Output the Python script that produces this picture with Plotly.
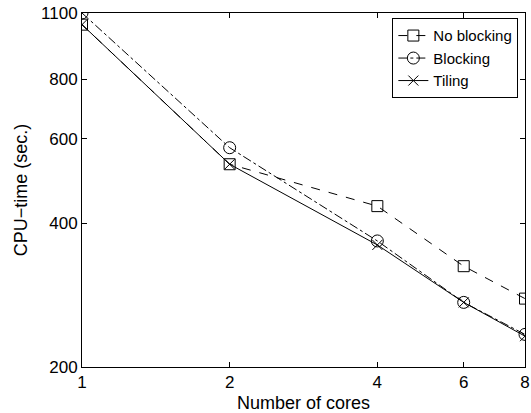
import plotly.graph_objects as go

cores = [1, 2, 4, 6, 8]
no_blocking = [1040, 531, 434, 325, 278]
blocking = [1100, 575, 367, 273, 234]
tiling = [1040, 531, 360, 273, 232]

x_ticks = [1, 2, 4, 6, 8]
y_ticks = [200, 400, 600, 800, 1100]

fig = go.Figure()
fig.add_trace(go.Scatter(
    x=cores, y=no_blocking, name="No blocking", mode="lines+markers",
    line=dict(color="black", width=1, dash="dash"),
    marker=dict(symbol="square-open", size=11, color="black", line=dict(width=1)),
))
fig.add_trace(go.Scatter(
    x=cores, y=blocking, name="Blocking", mode="lines+markers",
    line=dict(color="black", width=1, dash="dashdot"),
    marker=dict(symbol="circle-open", size=12, color="black", line=dict(width=1)),
))
fig.add_trace(go.Scatter(
    x=cores, y=tiling, name="Tiling", mode="lines+markers",
    line=dict(color="black", width=1),
    marker=dict(symbol="x-thin-open", size=10, color="black", line=dict(width=1, color="black")),
))

fam = "Liberation Sans, Arial, sans-serif"
tick_font = dict(family=fam, size=17, color="black")
title_font = dict(family=fam, size=18, color="black")

fig.update_layout(
    width=531, height=413,
    margin=dict(l=82, r=6, t=13, b=46, autoexpand=False),
    paper_bgcolor="white", plot_bgcolor="white",
    font=tick_font,
    showlegend=True,
    legend=dict(
        x=0.985, y=0.985, xanchor="right", yanchor="top",
        bordercolor="black", borderwidth=1, bgcolor="white",
        font=dict(family=fam, size=15, color="black"),
        tracegroupgap=0, itemwidth=30,
    ),
)
fig.update_xaxes(
    type="log", range=[0, 0.90309], automargin=False,
    tickvals=x_ticks, ticktext=[str(v) for v in x_ticks],
    ticks="inside", ticklen=5, tickcolor="black", tickwidth=1,
    showline=True, linecolor="black", linewidth=1, mirror="ticks",
    showgrid=False, zeroline=False,
    title=dict(text="Number of cores", standoff=4, font=title_font),
    tickfont=tick_font,
)
fig.update_yaxes(
    type="log", range=[2.30103, 3.041393], automargin=False,
    tickvals=y_ticks, ticktext=[str(v) for v in y_ticks],
    ticks="inside", ticklen=5, tickcolor="black", tickwidth=1,
    showline=True, linecolor="black", linewidth=1, mirror="ticks",
    showgrid=False, zeroline=False,
    title=dict(text="CPU\u2212time (sec.)", standoff=8, font=title_font),
    tickfont=tick_font,
)

fig.write_html(
    "out.html",
    config={"displayModeBar": False},
    post_script="document.body.style.margin='0';document.body.style.overflow='hidden';",
)
